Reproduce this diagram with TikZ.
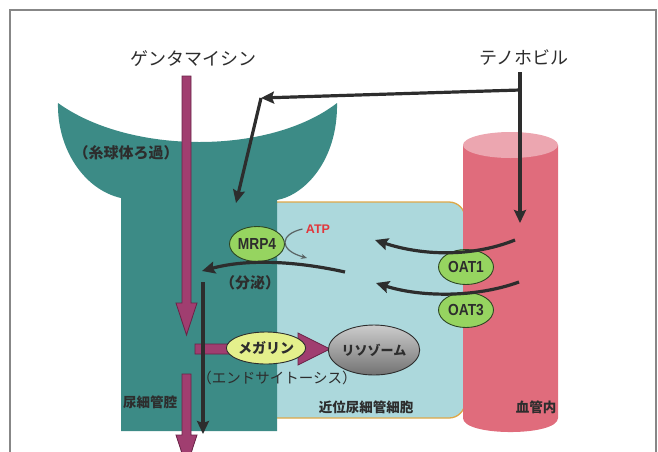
\documentclass[tikz,border=0pt]{standalone}
\usepackage{fontspec}
\usepackage{graphicx}
\setmainfont{Liberation Sans}
\newfontfamily\jp{Noto Sans CJK JP}
\usetikzlibrary{arrows.meta,shapes.geometric}

\definecolor{framegray}{RGB}{135,135,135}
\definecolor{tubule}{RGB}{60,139,134}
\definecolor{cellfill}{RGB}{172,216,220}
\definecolor{cellline}{RGB}{222,168,72}
\definecolor{vessel}{RGB}{224,108,124}
\definecolor{vesseltop}{RGB}{236,166,176}
\definecolor{drug}{RGB}{160,62,112}
\definecolor{drugline}{RGB}{105,35,70}
\definecolor{carrierfill}{RGB}{150,212,96}
\definecolor{carrierline}{RGB}{45,70,35}
\definecolor{megfill}{RGB}{228,240,140}
\definecolor{ink}{RGB}{45,45,45}
\definecolor{atpred}{RGB}{225,55,60}
\definecolor{atpline}{RGB}{90,100,100}

\newcommand\narrowtxt[1]{\scalebox{0.86}[1]{#1}}

\tikzset{
  blk/.style={draw=ink, line width=3.2pt, -{Stealth[length=13pt,width=12pt,inset=2pt]}},
  carrier/.style={ellipse, draw=carrierline, line width=0.9pt, fill=carrierfill,
    minimum width=55pt, minimum height=35pt, inner sep=0pt,
    font=\bfseries\fontsize{16}{16}\selectfont, text=ink},
  drugname/.style={font=\jp\fontsize{18}{18}\selectfont, text=ink},
  regionlbl/.style={font=\jp\bfseries\fontsize{13.5}{14}\selectfont, text=ink},
  notelbl/.style={font=\jp\bfseries\fontsize{15}{15}\selectfont, text=ink},
  blockarrow/.style={fill=drug, draw=drugline, line width=0.8pt},
}

\begin{document}
\begin{tikzpicture}[x=1pt, y=-1pt]
  \useasboundingbox (0,0) rectangle (658,451);
  \clip (0,0) rectangle (658,451);

  % outer frame
  \draw[framegray, line width=1.5pt] (10,470) -- (10,10) -- (656,10) -- (656,470);

  % proximal tubule cell
  \filldraw[fill=cellfill, draw=cellline, line width=1.3pt, rounded corners=16pt]
    (262,202) rectangle (465,418);

  % glomerulus funnel and tubule lumen
  \fill[tubule] (58,103) .. controls (130,155) and (270,155) .. (337,103)
    .. controls (338,160) and (305,195) .. (277,200) -- (277,431) -- (121,431)
    -- (121,198) .. controls (85,190) and (57,150) .. (58,103) -- cycle;

  % blood vessel cylinder
  \fill[vessel] (463,145) -- (463,418) .. controls (463,436.7) and (558,436.7) .. (558,418)
    -- (558,145) -- cycle;
  \node[ellipse, fill=vesseltop, minimum width=95pt, minimum height=26pt, inner sep=0pt]
    (vtop) at (510.5,145) {};

  % gentamicin flow (block arrows)
  \filldraw[blockarrow] (182,76) -- (191,76) -- (191,303) -- (197,303) -- (186.5,335)
    -- (176,303) -- (182,303) -- cycle;
  \filldraw[blockarrow] (182,374) -- (191,374) -- (191,435) -- (197,435) -- (186.5,467)
    -- (176,435) -- (182,435) -- cycle;
  \filldraw[blockarrow] (195,344) -- (298,344) -- (298,333) -- (330,349) -- (298,365)
    -- (298,354) -- (195,354) -- cycle;

  % transporters and organelles
  \node[carrier] (mrp) at (257,244) {\narrowtxt{MRP4}};
  \node[carrier] (oat1) at (466,267) {\narrowtxt{OAT1}};
  \node[carrier] (oat3) at (466,310) {\narrowtxt{OAT3}};
  \node[ellipse, draw=ink, line width=0.9pt, fill=megfill, minimum width=55pt,
    minimum height=32pt, inner sep=0pt, font=\jp\bfseries\fontsize{14}{14}\selectfont,
    text=ink] (meg) at (266,348) {メガリン};
  \node[ellipse, draw=ink, line width=0.9pt, top color=gray!40, middle color=white,
    bottom color=black!55, minimum width=77pt, minimum height=50pt, inner sep=0pt,
    font=\jp\bfseries\fontsize{13}{13}\selectfont, text=ink] (lyso) at (374,350) {リソゾーム};

  \node[font=\bfseries\fontsize{12.5}{12.5}\selectfont, text=atpred] (atp) at (318,229) {ATP};
  \draw[atpline, line width=1.2pt, -{Stealth[length=6pt,width=5pt]}]
    (atp.west) .. controls (280,234) and (278,250) .. (307,258);

  % drug names
  \node[drugname] (genta) at (193,59) {ゲンタマイシン};
  \node[drugname] (teno) at (524,58) {テノホビル};

  % tenofovir routes
  \coordinate (tenotop) at (520,72);
  \coordinate (fork) at (520,90);
  \coordinate (bend) at (261,98);
  \coordinate (mrpin) at (236,203);
  \coordinate (oatin) at (520,223);
  \draw[blk] (tenotop) -- (oatin);
  \draw[blk] (fork) -- (bend);
  \draw[blk] (bend) -- (mrpin);

  % uptake from the blood side
  \coordinate (up1s) at (515,240);
  \coordinate (up1e) at (375,240);
  \coordinate (up2s) at (519,282);
  \coordinate (up2e) at (376,283);
  \draw[blk] (up1s) .. controls (470,258) and (420,255) .. (up1e);
  \draw[blk] (up2s) .. controls (475,298) and (420,297) .. (up2e);

  % secretion into the lumen
  \coordinate (secs) at (345,272);
  \coordinate (sece) at (202,271);
  \draw[blk] (secs) .. controls (300,262) and (250,258) .. (sece);
  \coordinate (outs) at (203,282);
  \coordinate (oute) at (203,434);
  \draw[blk] (outs) -- (oute);

  % labels
  \node[notelbl] (glom) at (126,153) {（糸球体ろ過）};
  \node[notelbl] (secr) at (250,283) {（分泌）};
  \node[font=\jp\fontsize{14.5}{14.5}\selectfont, text=ink] (endo) at (277,378) {（エンドサイトーシス）};
  \node[regionlbl] (lumen) at (150,402) {尿細管腔};
  \node[regionlbl] (cell) at (366,407) {近位尿細管細胞};
  \node[regionlbl] (blood) at (536,407) {血管内};
\end{tikzpicture}
\end{document}
